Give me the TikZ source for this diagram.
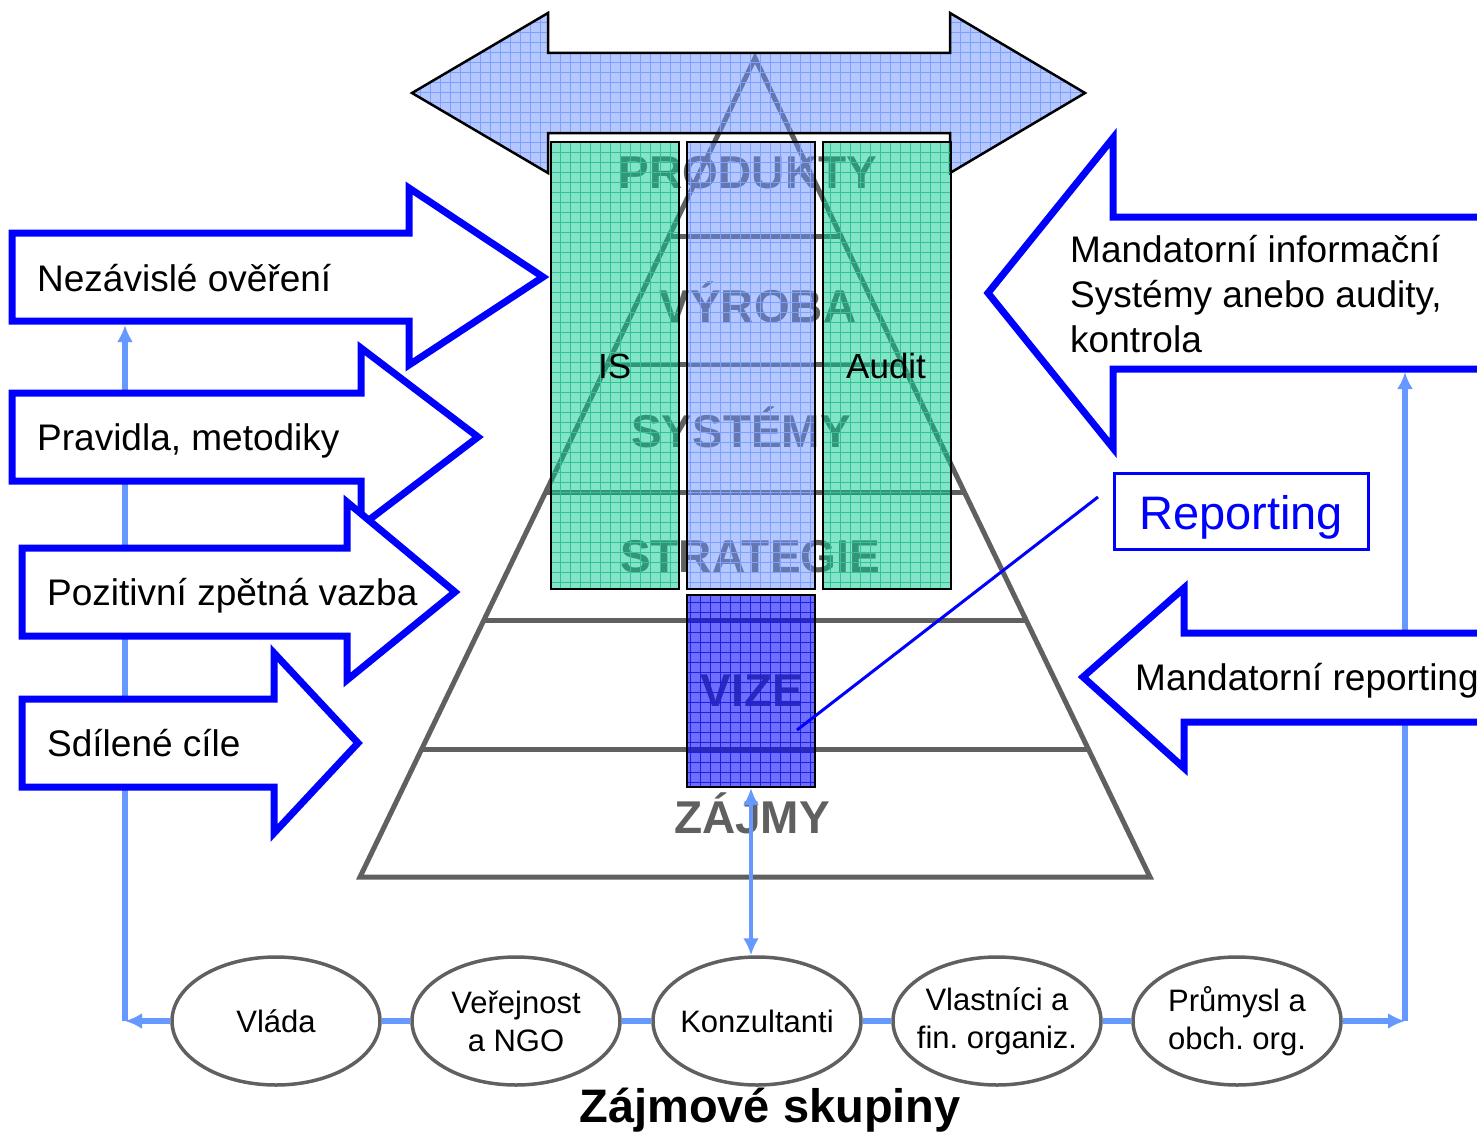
\documentclass[tikz,border=0pt]{standalone}
\usepackage{fontspec}
\setmainfont{Liberation Sans}
\usepackage{tikz}
\usetikzlibrary{calc,arrows.meta,shapes.geometric,patterns.meta}
\definecolor{pyrgray}{RGB}{96,96,96}
\definecolor{arrfill}{RGB}{105,145,255}
\definecolor{arrgrid}{RGB}{125,160,255}
\definecolor{grfill}{RGB}{5,201,145}
\definecolor{grgrid}{RGB}{50,195,145}
\definecolor{vzfill}{RGB}{0,0,255}
\definecolor{vzgrid}{RGB}{30,30,225}
\definecolor{feedblue}{RGB}{102,153,255}

\begin{document}
\frenchspacing
\begin{tikzpicture}[x=1pt,y=-1pt,
	pyr/.style={draw=pyrgray,line width=5},
	lvl/.style={font=\fontsize{46}{50}\selectfont\bfseries,text=pyrgray,anchor=base,inner sep=0},
	colbox/.style n args={3}{draw=black,line width=2,preaction={fill=#1,fill opacity=#3},
		pattern={Hatch[distance=10pt,line width=.6pt]},pattern color=#2},
	bluearrow/.style={draw=blue,line width=7,fill=white,line join=miter},
	lbl/.style={font=\fontsize{37}{45}\selectfont,anchor=base west,inner sep=0,align=left},
	grp/.style={ellipse,draw=pyrgray,line width=3.5,fill=white,minimum width=208,
		minimum height=128,inner xsep=-35pt,inner ysep=0,font=\fontsize{31}{38}\selectfont,align=center},
	feed/.style={draw=feedblue,line width=5.5},
	tip/.style={-{Latex[length=17pt,width=16pt]}}]
			\useasboundingbox (0,0) rectangle (1477,1132);
			
			\coordinate (apex) at (755,58);
			\coordinate (bl) at (360,877);
			\coordinate (br) at (1150,877);
			\draw[pyr,line join=miter] (apex) -- (bl) -- (br) -- cycle;
			\foreach \yy in {237,365,493,621,749}
				\draw[pyr] ($(apex)!{(\yy-58)/819}!(bl)$) -- ($(apex)!{(\yy-58)/819}!(br)$);
			
			\node[lvl] (lprod) at (748,188) {PRODUKTY};
			\node[lvl] (lvyr) at (758,322) {VÝROBA};
			\node[lvl] (lsys) at (741,447) {SYSTÉMY};
			\node[lvl] (lstr) at (750,572) {STRATEGIE};
			\node[lvl] (lviz) at (752,706) {VIZE};
			\node[lvl] (lzaj) at (752,833) {ZÁJMY};
			
			\draw[colbox={arrfill}{arrgrid}{.5},line width=2.5,line join=miter]
				(412,93) -- (548,13) -- (548,53) -- (950,53) -- (950,13) -- (1085,93)
				-- (950,173) -- (950,133) -- (548,133) -- (548,173) -- cycle;
			
			\draw[colbox={grfill}{grgrid}{.5}] (551,142) rectangle (679,589);
			\draw[colbox={arrfill}{arrgrid}{.5}] (687,142) rectangle (815,589);
			\draw[colbox={grfill}{grgrid}{.5}] (823,142) rectangle (951,589);
			\node[colbox={vzfill}{vzgrid}{.57},minimum width=128,minimum height=192,inner sep=0] (vize) at (751,691) {};
			
			\node[lbl,font=\fontsize{35}{40}\selectfont] (tis) at (598,378) {IS};
			\node[lbl,font=\fontsize{35}{40}\selectfont] (taudit) at (846,378) {Audit};
			
			\node[grp] (vlada) at (276,1021) {Vláda};
			\node[grp] (verej) at (516,1021) {Veřejnost\\a NGO};
			\node[grp] (konz) at (757,1021) {Konzultanti};
			\node[grp] (vlast) at (997,1021) {Vlastníci a\\fin. organiz.};
			\node[grp] (prum) at (1237,1021) {Průmysl a\\obch. org.};
			\node[font=\fontsize{47}{50}\selectfont\bfseries,anchor=base,inner sep=0] (skup) at (770,1122) {Zájmové skupiny};
			
			\coordinate (cl) at (125,1021);
			\coordinate (cr) at (1405,1021);
			\coordinate (nezb) at (125,325);
			\coordinate (mandb) at (1405,372);
			\draw[feed] (vlada.east) -- (verej.west);
			\draw[feed] (verej.east) -- (konz.west);
			\draw[feed] (konz.east) -- (vlast.west);
			\draw[feed] (vlast.east) -- (prum.west);
			\draw[feed,tip] (vlada.west) -- (cl);
			\draw[feed,tip] (prum.east) -- (cr);
			\draw[feed,tip] (cl) -- (nezb);
			\draw[feed,tip] (cr) -- (mandb);
			\draw[feed,line width=4,{Latex[length=17pt,width=16pt]}-{Latex[length=17pt,width=16pt]}]
				(vize.south) -- (vize.south |- konz.north);
			
			\draw[bluearrow] (12,233) -- (409,233) -- (409,188) -- (543,277) -- (409,365) -- (409,321) -- (12,321) -- cycle;
			\draw[bluearrow] (12,393) -- (361,393) -- (361,348) -- (478,437) -- (361,526) -- (361,481) -- (12,481) -- cycle;
			\draw[bluearrow] (22,548) -- (347,548) -- (347,502) -- (455,592) -- (347,680) -- (347,636) -- (22,636) -- cycle;
			\draw[bluearrow] (22,699) -- (274,699) -- (274,653) -- (358,743) -- (274,833) -- (274,787) -- (22,787) -- cycle;
			\draw[bluearrow] (1500,217) -- (1113,217) -- (1113,138) -- (988,293) -- (1113,448) -- (1113,369) -- (1500,369) -- cycle;
			\draw[bluearrow] (1500,633) -- (1184,633) -- (1184,588) -- (1083,677) -- (1184,768) -- (1184,722) -- (1500,722) -- cycle;
			
			\node[lbl] (tnez) at (37,291) {Nezávislé ověření};
			\node[lbl] (tprav) at (37,450) {Pravidla, metodiky};
			\node[lbl] (tpoz) at (47,605) {Pozitivní zpětná vazba};
			\node[lbl] (tsdil) at (47,756) {Sdílené cíle};
			\node[lbl] (tmandi) at (1070,352) {Mandatorní informační\\Systémy anebo audity,\\kontrola};
			\node[lbl] (tmandr) at (1135,690) {Mandatorní reporting};
			
			\node[draw=blue,line width=3,text=blue,minimum width=254,minimum height=76,inner sep=0,
				text height=40pt,text depth=4pt,font=\fontsize{47}{50}\selectfont] (rep) at (1241,511) {Reporting};
			\coordinate (repa) at (1098,497);
			\coordinate (repb) at (797,730);
			\draw[blue,line width=3] (repa) -- (repb);
		\end{tikzpicture}
\end{document}
